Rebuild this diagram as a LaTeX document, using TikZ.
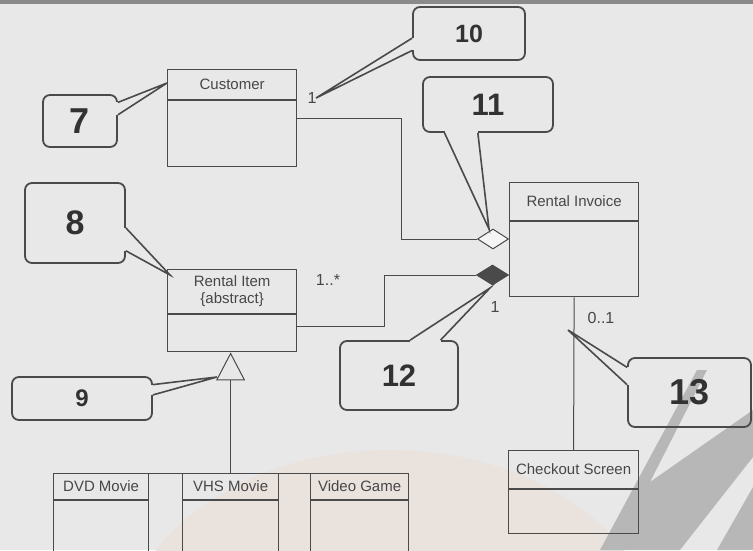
\documentclass[tikz,border=0pt]{standalone}
\usepackage{fontspec}
\setmainfont{Liberation Sans}
\usetikzlibrary{shapes.geometric, arrows.meta, calc}

\definecolor{paper}{HTML}{E8E8E8}
\definecolor{tint}{HTML}{EAE2DD}
\definecolor{smudge}{HTML}{B7B7B7}
\definecolor{topband}{HTML}{8A8A8A}
\definecolor{ink}{HTML}{474747}
\definecolor{rim}{HTML}{4A4A4A}

\tikzset{
  classhead/.style = {draw = rim, line width = 1.2pt, inner sep = 0pt, text = ink, align = center, anchor = north west, font = {\fontsize{15}{17}\selectfont}},
  classbody/.style = {draw = rim, line width = 1.2pt, inner sep = 0pt, anchor = north},
  assoc/.style = {draw = rim, line width = 1pt},
  mult/.style = {text = ink, inner sep = 0pt, font = {\fontsize{16}{18}\selectfont}},
  notebox/.style = {draw = rim, line width = 1.8pt, rounded corners = 7pt, inner sep = 0pt, text = ink!70!black},
  wedge/.style = {draw = rim, line width = 1.6pt, line join = miter},
  gap/.style = {draw = paper, line width = 3.2pt},
}

\begin{document}
\begin{tikzpicture}[x = 1pt, y = -1pt]
\useasboundingbox (0, 0) rectangle (753, 550);
\clip (0, 0) rectangle (753, 550);

% paper and scan marks
\fill [paper] (0, 0) rectangle (753, 550);
\fill [tint] (390, 650) ellipse [x radius = 270, y radius = 200];
\fill [smudge] (697, 370) -- (707, 370) -- (650, 482) -- (753, 410) -- (753, 457) -- (680, 550) -- (600, 550) -- cycle;
\fill [smudge] (753, 487) -- (753, 550) -- (717, 550) -- cycle;
\fill [topband] (0, 0) rectangle (753, 4);

% classes
\node [classhead, minimum width = 129, minimum height = 30] (custhead) at (167, 69) {Customer};
\node [classbody, minimum width = 129, minimum height = 66] (cust) at (custhead.south) {};

\node [classhead, minimum width = 129, minimum height = 44] (itemhead) at (167, 269) {Rental Item\\\{abstract\}};
\node [classbody, minimum width = 129, minimum height = 37] (item) at (itemhead.south) {};

\node [classhead, minimum width = 129, minimum height = 38] (invhead) at (509, 182) {Rental Invoice};
\node [classbody, minimum width = 129, minimum height = 75] (inv) at (invhead.south) {};

\node [classhead, minimum width = 130, minimum height = 38] (chkhead) at (508, 450) {Checkout Screen};
\node [classbody, minimum width = 130, minimum height = 44] (chk) at (chkhead.south) {};

\node [classhead, minimum width = 95, minimum height = 26] (dvdhead) at (53, 473) {DVD Movie};
\node [classbody, minimum width = 95, minimum height = 90] (dvd) at (dvdhead.south) {};
\node [classhead, minimum width = 96, minimum height = 26] (vhshead) at (182, 473) {VHS Movie};
\node [classbody, minimum width = 96, minimum height = 90] (vhs) at (vhshead.south) {};
\node [classhead, minimum width = 98, minimum height = 26] (gamehead) at (310, 473) {Video Game};
\node [classbody, minimum width = 98, minimum height = 90] (game) at (gamehead.south) {};

% associations
\node [draw = rim, line width = 1pt, fill = white!55!paper, shape = diamond, inner sep = 0pt, minimum width = 31, minimum height = 20, anchor = east] (agg) at (509, 239) {};
\node [draw = rim, line width = 1pt, fill = rim, shape = diamond, inner sep = 0pt, minimum width = 32, minimum height = 20, anchor = east] (comp) at (509, 275) {};

\path [assoc] ($(cust.east) + (0, -15)$) -| ($(agg.west) + (-76, 0)$) -- (agg.west);
\path [assoc] ($(item.east) + (0, -6.5)$) -- ++(87, 0) |- (comp.west);
\path [assoc] (inv.south) -- (chkhead.north);

\path [assoc] (dvdhead.north west) -- (gamehead.north east);
\path [assoc, -{Triangle[open, length = 28pt, width = 29pt, line width = 1pt]}] (vhshead.north) -- (vhshead.north |- item.south);

\node [mult] (mcust) at (312, 98) {1};
\node [mult] (mitem) at (328, 280) {1..*};
\node [mult] (minv) at (495, 307) {1};
\node [mult] (mchk) at (601, 318) {0..1};

% numbered callouts
\node [notebox, minimum width = 74, minimum height = 52, font = {\bfseries\fontsize{36}{36}\selectfont}] (note7) at (80, 121) {7};
\coordinate (tip7) at (167, 83);
\path [gap] ($(note7.north east)!0.154!(note7.south east)$) -- ($(note7.north east)!0.385!(note7.south east)$);
\path [wedge] ($(note7.north east)!0.154!(note7.south east)$) -- (tip7) -- ($(note7.north east)!0.385!(note7.south east)$);

\node [notebox, minimum width = 100, minimum height = 80, font = {\bfseries\fontsize{34}{34}\selectfont}] (note8) at (75, 223) {8};
\coordinate (tip8) at (170, 275);
\path [gap] ($(note8.north east)!0.56!(note8.south east)$) -- ($(note8.north east)!0.84!(note8.south east)$);
\path [wedge] ($(note8.north east)!0.56!(note8.south east)$) -- (tip8) -- ($(note8.north east)!0.84!(note8.south east)$);

\node [notebox, minimum width = 140, minimum height = 43, font = {\bfseries\fontsize{24}{24}\selectfont}] (note9) at (82, 398.5) {9};
\coordinate (tip9) at (217, 377);
\path [gap] ($(note9.north east)!0.19!(note9.south east)$) -- ($(note9.north east)!0.42!(note9.south east)$);
\path [wedge] ($(note9.north east)!0.19!(note9.south east)$) -- (tip9) -- ($(note9.north east)!0.42!(note9.south east)$);

\node [notebox, minimum width = 112, minimum height = 53, font = {\bfseries\fontsize{25}{25}\selectfont}] (note10) at (469, 33.5) {10};
\coordinate (tip10) at (316, 98);
\path [gap] ($(note10.north west)!0.585!(note10.south west)$) -- ($(note10.north west)!0.81!(note10.south west)$);
\path [wedge] ($(note10.north west)!0.585!(note10.south west)$) -- (tip10) -- ($(note10.north west)!0.81!(note10.south west)$);

\node [notebox, minimum width = 130, minimum height = 55, font = {\bfseries\fontsize{31}{31}\selectfont}] (note11) at (488, 104.5) {11};
\coordinate (tip11) at (489, 229);
\path [gap] ($(note11.south west)!0.17!(note11.south east)$) -- ($(note11.south west)!0.423!(note11.south east)$);
\path [wedge] ($(note11.south west)!0.17!(note11.south east)$) -- (tip11) -- ($(note11.south west)!0.423!(note11.south east)$);

\node [notebox, minimum width = 118, minimum height = 69, font = {\bfseries\fontsize{31}{31}\selectfont}] (note12) at (399, 375.5) {12};
\coordinate (tip12) at (490, 288);
\path [gap] ($(note12.north west)!0.593!(note12.north east)$) -- ($(note12.north west)!0.847!(note12.north east)$);
\path [wedge] ($(note12.north west)!0.593!(note12.north east)$) -- (tip12) -- ($(note12.north west)!0.847!(note12.north east)$);

\node [notebox, minimum width = 123, minimum height = 69, font = {\bfseries\fontsize{36}{36}\selectfont}] (note13) at (689.5, 392.5) {13};
\coordinate (tip13) at (568, 330);
\path [gap] ($(note13.north west)!0.145!(note13.south west)$) -- ($(note13.north west)!0.39!(note13.south west)$);
\path [wedge] ($(note13.north west)!0.145!(note13.south west)$) -- (tip13) -- ($(note13.north west)!0.39!(note13.south west)$);
\end{tikzpicture}
\end{document}
